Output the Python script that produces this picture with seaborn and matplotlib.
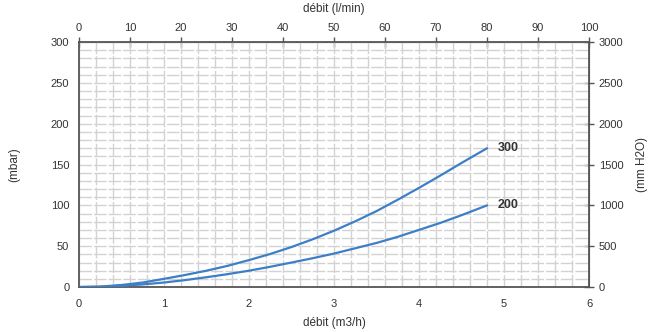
import matplotlib
matplotlib.use("Agg")
import matplotlib.pyplot as plt
import numpy as np
import pandas as pd
import seaborn as sns

# débit (m3/h) and pressure drop (mbar)
flow = [0, 0.25, 0.5, 0.75, 1, 1.25, 1.5, 1.75, 2, 2.25, 2.5, 2.75,
        3, 3.25, 3.5, 3.75, 4, 4.25, 4.5, 4.8]
p300 = [0, 0.5, 2.5, 5.5, 10, 14.8, 20, 26, 33, 40.5, 49, 58.5,
        69, 80.5, 93, 107, 121.5, 136.5, 152, 170]
p200 = [0, 0.3, 1.5, 3.2, 5.5, 8.5, 12, 15.8, 20, 24.8, 30, 35.3,
        41, 47.5, 54, 61.5, 70, 78.5, 88, 100]
labels = ["300", "200"]

df = pd.concat([
    pd.DataFrame({"flow": flow, "p": p300, "curve": labels[0]}),
    pd.DataFrame({"flow": flow, "p": p200, "curve": labels[1]}),
])

sns.set_style("white")
plt.rcParams["font.family"] = ["Liberation Sans", "DejaVu Sans"]

blue = "#3d7fc7"
txt = "#333333"
spine = "#555555"

fig = plt.figure(figsize=(6.53, 3.32), dpi=100)
ax = fig.add_axes([0.121, 0.1355, 0.781, 0.7375])

sns.lineplot(data=df, x="flow", y="p", hue="curve", palette=[blue, blue],
             legend=False, linewidth=1.6, ax=ax, zorder=3)

ax.set_xlim(0, 6)
ax.set_ylim(0, 300)
ax.set_xticks(range(0, 7))
ax.set_yticks(range(0, 301, 50))
ax.set_xticks(np.arange(0, 6.01, 0.2), minor=True)
ax.set_yticks(np.arange(0, 301, 10), minor=True)
ax.grid(which="both", color="#d2d2d2", linewidth=1.0, linestyle=(0, (9, 1.5)))
ax.set_axisbelow(True)

for s in ax.spines.values():
    s.set_color(spine)
    s.set_linewidth(1.3)
    s.set_visible(True)

ax.tick_params(which="major", direction="inout", length=7, width=1, color=spine,
               labelsize=8, labelcolor=txt)
ax.tick_params(which="minor", length=0)
ax.tick_params(axis="x", pad=5)
ax.set_xlabel("débit (m3/h)", fontsize=8.5, color=txt, labelpad=6)
ax.set_ylabel("(mbar)", fontsize=8.5, color=txt, labelpad=22)

top = ax.secondary_xaxis("top", functions=(lambda x: x * 1000 / 60, lambda x: x * 60 / 1000))
top.set_xticks(range(0, 101, 10))
top.tick_params(direction="inout", length=7, width=1, color=spine, labelsize=8, labelcolor=txt, pad=3)
top.set_xlabel("débit (l/min)", fontsize=8.5, color=txt, labelpad=8)
top.spines["top"].set_color(spine)

right = ax.secondary_yaxis("right", functions=(lambda y: y * 10, lambda y: y / 10))
right.set_yticks(range(0, 3001, 500))
right.tick_params(direction="inout", length=7, width=1, color=spine, labelsize=8, labelcolor=txt)
right.set_ylabel("(mm H2O)", fontsize=8.5, color=txt, labelpad=9)
right.spines["right"].set_color(spine)

ends = [p300[-1], p200[-1]]
for lab, yv in zip(labels, ends):
    ax.text(flow[-1] + 0.13, yv, lab, fontsize=9, fontweight="bold", color=txt,
            va="center", ha="left")

fig.savefig("out.png", dpi=100)
